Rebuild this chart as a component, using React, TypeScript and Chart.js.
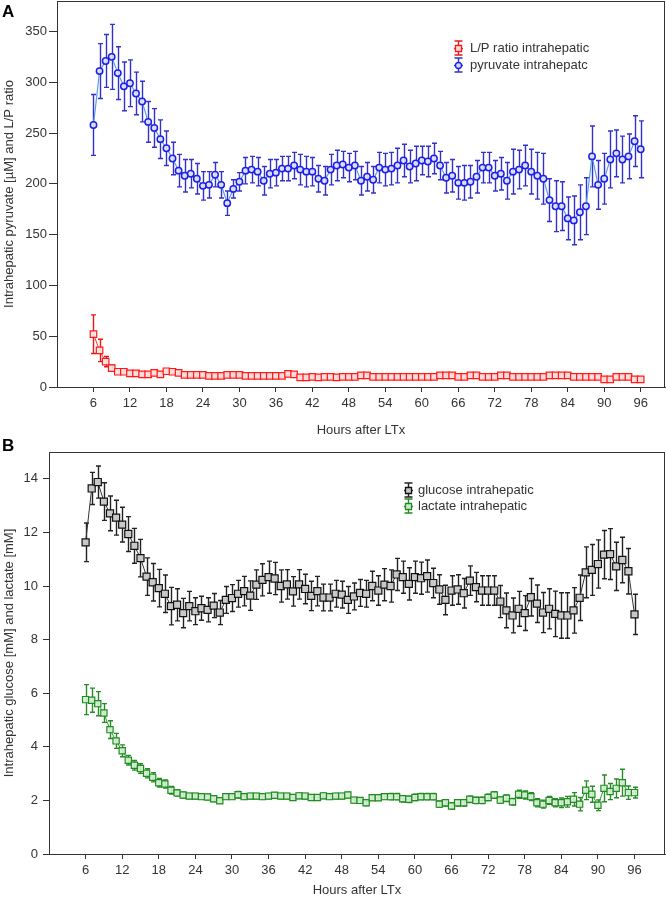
import React, { useEffect, useRef } from "react";
import { Chart, registerables } from "chart.js";

Chart.register(...registerables);
Chart.defaults.font.family = "'Liberation Sans', Arial, sans-serif";

// ---------- data ----------
const hours = [
  6, 7, 8, 9, 10, 11, 12, 13, 14, 15,
  16, 17, 18, 19, 20, 21, 22, 23, 24, 25,
  26, 27, 28, 29, 30, 31, 32, 33, 34, 35,
  36, 37, 38, 39, 40, 41, 42, 43, 44, 45,
  46, 47, 48, 49, 50, 51, 52, 53, 54, 55,
  56, 57, 58, 59, 60, 61, 62, 63, 64, 65,
  66, 67, 68, 69, 70, 71, 72, 73, 74, 75,
  76, 77, 78, 79, 80, 81, 82, 83, 84, 85,
  86, 87, 88, 89, 90, 91, 92, 93, 94, 95, 96,
];

const xTicks = [6, 12, 18, 24, 30, 36, 42, 48, 54, 60, 66, 72, 78, 84, 90, 96];
const yTicksA = [0, 50, 100, 150, 200, 250, 300, 350];
const yTicksB = [0, 2, 4, 6, 8, 10, 12, 14];

const lpRatio = [
  52, 36, 25, 18.5, 15, 15, 13.5, 13.5, 12.5, 12.5,
  14, 12.5, 15.5, 15, 14, 12, 12, 12, 12, 11,
  11, 11, 12, 12, 12, 11, 11, 11, 11, 11,
  11, 11, 13, 12.5, 9.5, 9.5, 10, 9.5, 10, 10,
  9.5, 10, 10, 10, 11.5, 11.5, 10, 10, 10, 10,
  10, 10, 10, 10, 10, 10, 10, 11.5, 11.5, 11.5,
  10, 10, 11.5, 11.5, 10, 10, 10, 11.5, 11.5, 10,
  10, 10, 10, 10, 10, 11.5, 11.5, 11.5, 11.5, 10,
  10, 10, 10, 10, 7.6, 7.6, 10, 10, 10, 7.6, 7.6,
];
const lpRatioErr = [
  19, 11, 5, 3, 2.5, 2, 2, 2, 2, 2,
  2, 2, 2, 2, 2, 1.5, 1.5, 1.5, 1.5, 1.5,
  1.5, 1.5, 1.5, 1.5, 1.5, 1.5, 1.5, 1.5, 1.5, 1.5,
  1.5, 1.5, 1.5, 1.5, 1.5, 1.5, 1.5, 1.5, 1.5, 1.5,
  1.5, 1.5, 1.5, 1.5, 1.5, 1.5, 1.5, 1.5, 1.5, 1.5,
  1.5, 1.5, 1.5, 1.5, 1.5, 1.5, 1.5, 1.5, 1.5, 1.5,
  1.5, 1.5, 1.5, 1.5, 1.5, 1.5, 1.5, 1.5, 1.5, 1.5,
  1.5, 1.5, 1.5, 1.5, 1.5, 1.5, 1.5, 1.5, 1.5, 1.5,
  1.5, 1.5, 1.5, 1.5, 1.5, 1.5, 1.5, 1.5, 1.5, 1.5, 1.5,
];

const pyruvate = [
  258, 311, 321, 325, 309, 296, 299, 289, 281, 261,
  255, 244, 235, 225, 213, 208, 210, 205, 198, 199,
  209, 199, 181, 195, 202, 213, 214, 212, 203, 210,
  211, 215, 215, 218, 214, 212, 212, 205, 203, 214,
  218, 219, 216, 218, 203, 207, 204, 216, 214, 215,
  218, 223, 217, 220, 223, 222, 225, 218, 206, 208,
  201, 201, 202, 207, 216, 216, 208, 210, 203, 212,
  214, 218, 212, 208, 205, 184, 178, 178, 166, 164,
  172, 178, 227, 199, 205, 224, 230, 224, 227, 242, 234,
];
const pyruvateErr = [
  30, 27, 26, 32, 26, 24, 23, 21, 20, 20,
  19, 19, 17, 16, 16, 16, 14, 15, 14, 13,
  12, 13, 12, 9, 9, 13, 13, 14, 14, 14,
  13, 12, 12, 13, 15, 15, 14, 13, 14, 15,
  15, 13, 14, 14, 14, 14, 13, 15, 16, 16,
  17, 16, 16, 17, 14, 15, 15, 14, 15, 16,
  16, 17, 16, 16, 15, 15, 15, 16, 18, 22,
  19, 20, 22, 23, 25, 21, 25, 24, 21, 24,
  27, 28, 30, 24, 25, 28, 23, 23, 22, 25, 28,
];

const glucose = [
  11.63, 13.64, 13.88, 13.15, 12.71, 12.55, 12.29, 11.94, 11.5, 11.04,
  10.35, 10.14, 9.92, 9.71, 9.25, 9.3, 8.99, 9.25, 9.06, 9.17,
  9.11, 9.27, 9.01, 9.48, 9.55, 9.71, 9.81, 9.64, 10.05, 10.23,
  10.33, 10.28, 10.0, 10.06, 9.8, 10.06, 9.89, 9.63, 9.81, 9.57,
  9.57, 9.71, 9.68, 9.48, 9.61, 9.74, 9.71, 10.0, 9.83, 10.05,
  10.0, 10.43, 10.33, 10.08, 10.33, 10.29, 10.37, 10.11, 9.87, 9.48,
  9.83, 9.87, 9.73, 10.2, 9.96, 9.83, 9.83, 9.83, 9.42, 9.09,
  8.9, 9.15, 8.99, 9.58, 9.34, 9.01, 9.15, 8.96, 8.9, 8.9,
  9.09, 9.56, 10.51, 10.6, 10.82, 11.17, 11.19, 10.73, 10.97, 10.55, 8.94,
];
const glucoseErr = [
  0.72, 0.6, 0.6, 0.7, 0.65, 0.65, 0.65, 0.65, 0.65, 0.7,
  0.7, 0.7, 0.7, 0.7, 0.7, 0.6, 0.55, 0.55, 0.5, 0.45,
  0.45, 0.45, 0.45, 0.5, 0.5, 0.5, 0.55, 0.55, 0.55, 0.6,
  0.6, 0.6, 0.6, 0.55, 0.55, 0.55, 0.55, 0.55, 0.55, 0.5,
  0.5, 0.5, 0.5, 0.5, 0.5, 0.5, 0.5, 0.55, 0.55, 0.6,
  0.6, 0.6, 0.6, 0.6, 0.6, 0.6, 0.6, 0.55, 0.55, 0.55,
  0.55, 0.55, 0.55, 0.55, 0.55, 0.55, 0.55, 0.55, 0.6, 0.65,
  0.65, 0.65, 0.65, 0.7, 0.7, 0.75, 0.75, 0.85, 0.85, 0.85,
  0.85, 0.85, 0.95, 0.95, 0.9, 0.9, 0.95, 0.9, 0.85, 0.85, 0.75,
];

const lactate = [
  5.76, 5.74, 5.61, 5.26, 4.64, 4.22, 3.85, 3.5, 3.31, 3.19,
  3.01, 2.86, 2.66, 2.61, 2.38, 2.28, 2.2, 2.16, 2.16, 2.14,
  2.13, 2.06, 1.99, 2.14, 2.14, 2.21, 2.14, 2.16, 2.16, 2.14,
  2.16, 2.19, 2.16, 2.16, 2.11, 2.17, 2.16, 2.11, 2.11, 2.17,
  2.14, 2.16, 2.16, 2.2, 2.01, 2.0, 1.91, 2.1, 2.1, 2.14,
  2.14, 2.14, 2.06, 2.04, 2.11, 2.14, 2.14, 2.14, 1.86, 1.91,
  1.79, 1.91, 1.91, 2.04, 2.0, 2.0, 2.11, 2.2, 2.01, 2.08,
  1.95, 2.23, 2.2, 2.14, 1.91, 1.86, 2.0, 1.91, 1.91, 1.95,
  2.04, 1.86, 2.38, 2.23, 1.82, 2.45, 2.33, 2.45, 2.66, 2.29, 2.29,
];
const lactateErr = [
  0.56, 0.45, 0.45, 0.35, 0.33, 0.28, 0.22, 0.18, 0.18, 0.18,
  0.17, 0.17, 0.16, 0.15, 0.14, 0.12, 0.1, 0.1, 0.1, 0.1,
  0.1, 0.1, 0.1, 0.1, 0.1, 0.12, 0.1, 0.1, 0.1, 0.1,
  0.1, 0.1, 0.1, 0.1, 0.1, 0.1, 0.1, 0.1, 0.1, 0.1,
  0.1, 0.1, 0.1, 0.1, 0.1, 0.1, 0.1, 0.1, 0.1, 0.1,
  0.12, 0.12, 0.12, 0.12, 0.12, 0.12, 0.12, 0.12, 0.12, 0.12,
  0.12, 0.12, 0.12, 0.12, 0.12, 0.12, 0.12, 0.12, 0.12, 0.12,
  0.12, 0.15, 0.15, 0.15, 0.15, 0.15, 0.15, 0.15, 0.18, 0.2,
  0.25, 0.25, 0.35, 0.3, 0.2, 0.5, 0.3, 0.35, 0.5, 0.25, 0.2,
];

// ---------- styles ----------
const TXT = "#333333";
const AX = "#333333";

const errorBarPlugin = {
  id: "errorBars",
  beforeDatasetDraw(chart: any, args: any) {
    const ds = chart.data.datasets[args.index];
    const errs: number[] = ds.errors;
    if (!errs) return;
    const xS = chart.scales.x;
    const yS = chart.scales.y;
    const ctx = chart.ctx;
    const cap = ds.capHalf ?? 2.5;
    ctx.save();
    ctx.strokeStyle = ds.errorColor;
    ctx.lineWidth = ds.errorWidth ?? 1.4;
    ds.data.forEach((p: any, i: number) => {
      const x = Math.round(xS.getPixelForValue(p.x)) + 0.5;
      const y1 = yS.getPixelForValue(p.y + errs[i]);
      const y2 = yS.getPixelForValue(p.y - errs[i]);
      ctx.beginPath();
      ctx.moveTo(x, y1);
      ctx.lineTo(x, y2);
      ctx.moveTo(x - cap, y1);
      ctx.lineTo(x + cap, y1);
      ctx.moveTo(x - cap, y2);
      ctx.lineTo(x + cap, y2);
      ctx.stroke();
    });
    ctx.restore();
  },
};

const decorPlugin = {
  id: "decor",
  afterDraw(chart: any, _args: any, opts: any) {
    const ctx = chart.ctx;
    const a = chart.chartArea;
    ctx.save();
    // frame
    ctx.strokeStyle = AX;
    ctx.lineWidth = 1;
    ctx.strokeRect(Math.round(a.left) + 0.5, Math.round(a.top) + 0.5, Math.round(a.right - a.left) - 1, Math.round(a.bottom - a.top));
    // panel letter
    ctx.fillStyle = "#000";
    ctx.font = "bold 17px 'Liberation Sans', Arial, sans-serif";
    ctx.textBaseline = "top";
    ctx.textAlign = "left";
    ctx.fillText(opts.letter, 2, opts.letterY);
    // legend
    ctx.font = "13px 'Liberation Sans', Arial, sans-serif";
    ctx.textBaseline = "middle";
    chart.data.datasets.forEach((ds: any, i: number) => {
      const gx = opts.legendX;
      const gy = opts.legendY[i];
      ctx.strokeStyle = ds.errorColor;
      ctx.lineWidth = 1.4;
      ctx.beginPath();
      ctx.moveTo(gx + 0.5, gy - 7);
      ctx.lineTo(gx + 0.5, gy + 7);
      ctx.moveTo(gx - 3.5, gy - 7);
      ctx.lineTo(gx + 4.5, gy - 7);
      ctx.moveTo(gx - 3.5, gy + 7);
      ctx.lineTo(gx + 4.5, gy + 7);
      ctx.moveTo(gx - 4, gy + 0.5);
      ctx.lineTo(gx + 5, gy + 0.5);
      ctx.stroke();
      ctx.fillStyle = ds.pointBackgroundColor;
      ctx.strokeStyle = ds.pointBorderColor;
      ctx.lineWidth = 1.3;
      ctx.beginPath();
      if (ds.pointStyle === "circle") {
        ctx.arc(gx + 0.5, gy + 0.5, 3, 0, Math.PI * 2);
      } else {
        ctx.rect(gx - 2.5, gy - 2.5, 6, 6);
      }
      ctx.fill();
      ctx.stroke();
      ctx.fillStyle = TXT;
      ctx.fillText(ds.label, opts.textX, gy + 0.5);
    });
    ctx.restore();
  },
};

function pts(ys: number[]) {
  return hours.map((h, i) => ({ x: h, y: ys[i] }));
}

function xAxis(max: number, height: number) {
  return {
    type: "linear",
    min: 0,
    max,
    afterBuildTicks: (s: any) => {
      s.ticks = xTicks.map((v) => ({ value: v }));
    },
    afterFit: (s: any) => {
      s.height = height;
      s.paddingLeft = 0;
      s.paddingRight = 0;
    },
    ticks: { font: { size: 13 }, color: TXT, padding: 4, maxRotation: 0, autoSkip: false },
    grid: { drawOnChartArea: false, drawTicks: true, tickLength: 5, color: AX },
    border: { display: true, color: AX },
    title: {
      display: true,
      text: "Hours after LTx",
      font: { size: 13 },
      color: TXT,
      padding: { top: 0, bottom: 4 },
    },
  };
}

function yAxis(max: number, ticks: number[], width: number, tickLen: number, pad: number, title: string) {
  return {
    type: "linear",
    min: 0,
    max,
    afterBuildTicks: (s: any) => {
      s.ticks = ticks.map((v) => ({ value: v }));
    },
    afterFit: (s: any) => {
      s.width = width;
      s.paddingTop = 0;
      s.paddingBottom = 0;
    },
    ticks: { font: { size: 13 }, color: TXT, padding: pad, autoSkip: false },
    grid: { drawOnChartArea: false, drawTicks: true, tickLength: tickLen, color: AX },
    border: { display: true, color: AX },
    title: {
      display: true,
      text: title,
      font: { size: 13 },
      color: TXT,
      padding: { top: 2, bottom: 0 },
    },
  };
}

function baseOptions(topPad: number) {
  return {
    responsive: false,
    animation: false,
    layout: { autoPadding: false, padding: { top: topPad, right: 1, left: 0, bottom: 0 } },
  };
}

function buildA(): any {
  return {
    type: "line",
    data: {
      datasets: [
        {
          label: "L/P ratio intrahepatic",
          data: pts(lpRatio),
          errors: lpRatioErr,
          errorColor: "#e81818",
          borderColor: "#ff3030",
          borderWidth: 1,
          pointStyle: "rect",
          pointRadius: 4.6,
          pointBorderWidth: 1.2,
          pointBorderColor: "#ff1a1a",
          pointBackgroundColor: "rgba(255,235,235,0.9)",
          capHalf: 2.5,
        },
        {
          label: "pyruvate intrahepatc",
          data: pts(pyruvate),
          errors: pyruvateErr,
          errorColor: "#3232c8",
          borderColor: "#5a9cf0",
          borderWidth: 1.2,
          pointStyle: "circle",
          pointRadius: 3.2,
          pointBorderWidth: 1.5,
          pointBorderColor: "#1e1ee6",
          pointBackgroundColor: "rgba(225,230,255,0.9)",
          capHalf: 2.5,
        },
      ],
    },
    options: {
      ...baseOptions(1),
      scales: {
        x: xAxis(100, 55),
        y: yAxis(380, yTicksA, 57, 8, 2, "Intrahepatic pyruvate [µM] and L/P ratio"),
      },
      plugins: {
        legend: { display: false },
        tooltip: { enabled: false },
        decor: { letter: "A", letterY: 4, legendX: 458, legendY: [48, 65], textX: 470 },
      },
    },
    plugins: [errorBarPlugin, decorPlugin],
  };
}

function buildB(): any {
  return {
    type: "line",
    data: {
      datasets: [
        {
          label: "glucose intrahepatic",
          data: pts(glucose),
          errors: glucoseErr,
          errorColor: "#222222",
          borderColor: "#333333",
          borderWidth: 1,
          pointStyle: "rect",
          pointRadius: 5,
          pointBorderWidth: 1.2,
          pointBorderColor: "#111111",
          pointBackgroundColor: "#c8c8c8",
          capHalf: 2.5,
        },
        {
          label: "lactate intrahepatic",
          data: pts(lactate),
          errors: lactateErr,
          errorColor: "#2a8a2a",
          borderColor: "#2f9a2f",
          borderWidth: 1,
          pointStyle: "rect",
          pointRadius: 4.4,
          pointBorderWidth: 1.2,
          pointBorderColor: "#1e8c1e",
          pointBackgroundColor: "rgba(215,240,215,0.9)",
          capHalf: 2.5,
        },
      ],
    },
    options: {
      ...baseOptions(22),
      scales: {
        x: xAxis(101, 48),
        y: yAxis(15, yTicksB, 49, 6, 5, "Intrahepatic glucose [mM] and lactate [mM]"),
      },
      plugins: {
        legend: { display: false },
        tooltip: { enabled: false },
        decor: { letter: "B", letterY: 8, legendX: 408, legendY: [60, 76], textX: 418 },
      },
    },
    plugins: [errorBarPlugin, decorPlugin],
  };
}

export default function App() {
  const refA = useRef<HTMLCanvasElement>(null);
  const refB = useRef<HTMLCanvasElement>(null);
  useEffect(() => {
    const a = new Chart(refA.current as HTMLCanvasElement, buildA());
    const b = new Chart(refB.current as HTMLCanvasElement, buildB());
    return () => {
      a.destroy();
      b.destroy();
    };
  }, []);
  return (
    <div style={{ position: "absolute", left: 0, top: 0, width: 666, height: 902, background: "#ffffff" }}>
      <canvas ref={refA} width={666} height={442} style={{ position: "absolute", left: 0, top: 0 }} />
      <canvas ref={refB} width={666} height={472} style={{ position: "absolute", left: 0, top: 430 }} />
    </div>
  );
}
